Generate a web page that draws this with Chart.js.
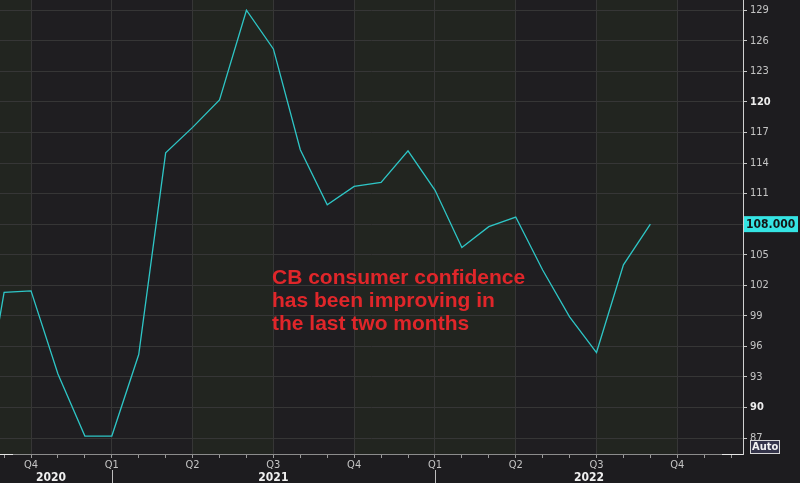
<!DOCTYPE html>
<html>
<head>
    <meta charset="UTF-8">
    <title>CB consumer confidence</title>
    <script src="https://cdn.jsdelivr.net/npm/chart.js"></script>
    <style>
        body {
            margin: 0;
            background-color: #1d1c1f;
        }
        .wrap {
            position: relative;
            width: 800px;
            height: 483px;
        }
        .note {
            position: absolute;
            left: 272px;
            top: 265px;
            font-family: "Liberation Sans", Arial, sans-serif;
            font-weight: bold;
            font-size: 21px;
            line-height: 23px;
            color: #e0262a;
        }
    </style>
</head>
<body>
    <div class="wrap">
        <canvas id="cbChart"></canvas>
        <div class="note">CB consumer confidence<br>has been improving in<br>the last two months</div>
    </div>

    <script>
        // monthly readings, Aug 2020 .. Sep 2022
        const months = ['2020-08', '2020-09', '2020-10', '2020-11', '2020-12',
                        '2021-01', '2021-02', '2021-03', '2021-04', '2021-05', '2021-06',
                        '2021-07', '2021-08', '2021-09', '2021-10', '2021-11', '2021-12',
                        '2022-01', '2022-02', '2022-03', '2022-04', '2022-05', '2022-06',
                        '2022-07', '2022-08', '2022-09'];
        const confidence = [86.0, 101.3, 101.45, 93.3, 87.2,
                            87.2, 95.2, 115.0, 117.5, 120.2, 129.0,
                            125.2, 115.3, 109.9, 111.7, 112.1, 115.2,
                            111.35, 105.7, 107.75, 108.7, 103.5, 98.9,
                            95.4, 104.0, 108.0];
        const quarterLabels = ['Q4', 'Q1', 'Q2', 'Q3', 'Q4', 'Q1', 'Q2', 'Q3', 'Q4'];
        const yearLabels = ['2020', '2021', '2022'];
        const yTicks = [87, 90, 93, 96, 99, 102, 105, 108, 111, 114, 117, 120, 123, 126, 129];

        // x is months counted from Oct 2020
        const startOffset = -2;
        const xMin = -1.152, xMax = 26.44;
        const yMin = 85.44, yMax = 130.0;

        const FONT = '"DejaVu Sans Condensed", "DejaVu Sans", sans-serif';
        // greenish shading for some quarter bands (start month of band)
        const greenBands = [-3, 6, 12, 15, 21];

        const points = confidence.map((v, i) => ({ x: i + startOffset, y: v }));

        const quarterOf = m => (m % 3 === 0 ? quarterLabels[m / 3] : '');

        const decor = {
            id: 'decor',
            beforeDraw(chart) {
                const c = chart.ctx, a = chart.chartArea, xs = chart.scales.x;
                c.save();
                c.fillStyle = '#1d1c1f';
                c.fillRect(0, 0, chart.width, chart.height);
                for (let q = -3; q <= 24; q += 3) {
                    let x0 = Math.max(a.left, xs.getPixelForValue(q));
                    let x1 = Math.min(a.right, xs.getPixelForValue(q + 3));
                    if (x1 <= x0) continue;
                    c.fillStyle = greenBands.includes(q) ? '#222520' : '#1f1e21';
                    c.fillRect(x0, a.top, x1 - x0, a.bottom - a.top);
                }
                c.restore();
            },
            afterDraw(chart) {
                const c = chart.ctx, a = chart.chartArea, xs = chart.scales.x, ys = chart.scales.y;
                c.save();
                // year row
                const bounds = [xs.getPixelForValue(xMin), xs.getPixelForValue(3),
                                xs.getPixelForValue(15), xs.getPixelForValue(xMax)];
                c.font = 'bold 12px ' + FONT;
                c.fillStyle = '#f0f0f0';
                c.textAlign = 'center';
                c.textBaseline = 'middle';
                yearLabels.forEach((t, i) => {
                    let mid = (bounds[i] + bounds[i + 1]) / 2;
                    if (i === 0) mid -= 5;
                    c.fillText(t, mid, 478);
                });
                c.strokeStyle = '#bdbdbd';
                c.lineWidth = 1;
                [bounds[1], bounds[2]].forEach(x => {
                    c.beginPath();
                    c.moveTo(Math.round(x) + 0.5, 470);
                    c.lineTo(Math.round(x) + 0.5, 483);
                    c.stroke();
                });
                // bright ends of the bottom axis line
                c.strokeStyle = '#e6e6e6';
                c.beginPath();
                c.moveTo(0, a.bottom + 0.5);
                c.lineTo(13, a.bottom + 0.5);
                c.moveTo(722, a.bottom + 0.5);
                c.lineTo(a.right, a.bottom + 0.5);
                c.stroke();

                // last value badge
                const last = confidence[confidence.length - 1];
                const yy = ys.getPixelForValue(last);
                c.fillStyle = '#35e4e4';
                c.fillRect(a.right + 1, yy - 8, 54, 16);
                c.fillStyle = '#151515';
                c.font = 'bold 12px ' + FONT;
                c.textAlign = 'left';
                c.fillText(last.toFixed(3), a.right + 3, yy + 1);

                // Auto box
                c.fillStyle = '#34344a';
                c.fillRect(750, 440, 29, 13);
                c.strokeStyle = '#d8d8d8';
                c.strokeRect(750.5, 440.5, 29, 13);
                c.fillStyle = '#f2f2f2';
                c.font = 'bold 11px ' + FONT;
                c.fillText('Auto', 752, 447.5);
                c.restore();
            }
        };

        const ctx = document.getElementById('cbChart').getContext('2d');
        const chart = new Chart(ctx, {
            type: 'line',
            data: {
                labels: months,
                datasets: [{
                    label: 'CB consumer confidence',
                    data: points,
                    borderColor: '#2ec6c6',
                    borderWidth: 1.3,
                    pointRadius: 0,
                    tension: 0
                }]
            },
            options: {
                responsive: true,
                maintainAspectRatio: false,
                animation: false,
                layout: { padding: 0 },
                plugins: {
                    legend: { display: false },
                    tooltip: { enabled: false }
                },
                scales: {
                    x: {
                        type: 'linear',
                        min: xMin,
                        max: xMax,
                        afterBuildTicks: s => {
                            const t = [];
                            for (let m = -1; m <= 26; m++) t.push({ value: m });
                            s.ticks = t;
                        },
                        afterFit: s => {
                            s.height = 29;
                            s.paddingLeft = 0;
                            s.paddingRight = 0;
                        },
                        ticks: {
                            autoSkip: false,
                            maxRotation: 0,
                            padding: 1,
                            color: '#c4c4c4',
                            font: { family: FONT, size: 11 },
                            callback: v => quarterOf(v)
                        },
                        grid: {
                            color: c => (c.tick && c.tick.value % 3 === 0 ? '#363636' : 'transparent'),
                            tickColor: '#9a9a9a',
                            tickLength: 4,
                            lineWidth: 1
                        },
                        border: { display: true, color: '#8c8c8c', width: 1 }
                    },
                    y: {
                        position: 'right',
                        min: yMin,
                        max: yMax,
                        afterBuildTicks: s => { s.ticks = yTicks.map(v => ({ value: v })); },
                        afterFit: s => {
                            s.width = 57;
                            s.paddingTop = 0;
                            s.paddingBottom = 0;
                        },
                        ticks: {
                            padding: 3,
                            color: c => (c.tick.value % 30 === 0 ? '#ececec' : '#c4c4c4'),
                            font: c => ({ family: FONT, size: 11, weight: c.tick && c.tick.value % 30 === 0 ? 'bold' : 'normal' }),
                            callback: v => String(v)
                        },
                        grid: {
                            color: '#363636',
                            tickColor: '#c8c8c8',
                            tickLength: 4,
                            lineWidth: 1
                        },
                        border: { display: true, color: '#d0d0d0', width: 1 }
                    }
                }
            },
            plugins: [decor]
        });
    </script>
</body>
</html>
